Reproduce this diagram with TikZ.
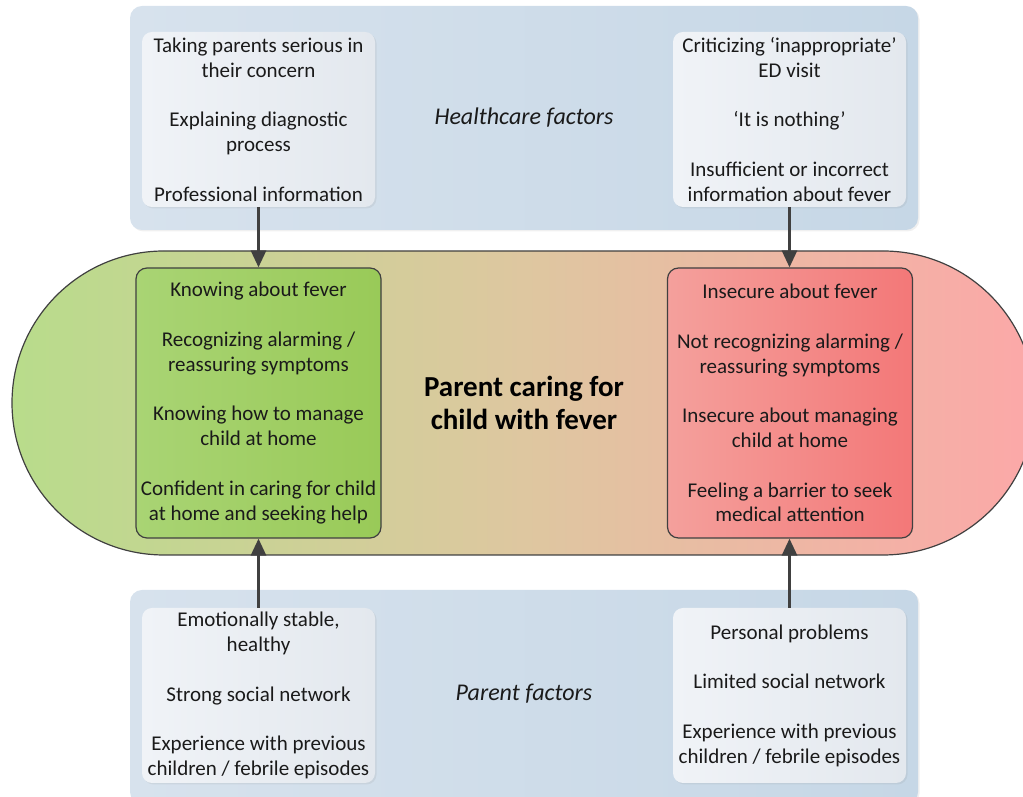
\documentclass[tikz,border=0pt]{standalone}
\usepackage{fontspec}
\setmainfont{Carlito}
\usetikzlibrary{arrows.meta,shadows}
\definecolor{panelL}{HTML}{D7E2ED}
\definecolor{panelR}{HTML}{C6D7E6}
\definecolor{whiteL}{HTML}{F0F3F7}
\definecolor{whiteR}{HTML}{E3E8EE}
\definecolor{stL}{HTML}{B8DC8B}
\definecolor{stM}{HTML}{DEC7A0}
\definecolor{stR}{HTML}{FCA8A8}
\definecolor{grL}{HTML}{A9D474}
\definecolor{grR}{HTML}{99CA58}
\definecolor{rdL}{HTML}{F4A09C}
\definecolor{rdR}{HTML}{F37878}
\definecolor{edge}{HTML}{404040}
\definecolor{txt}{HTML}{1A1A1A}
\pgfdeclarehorizontalshading{stadshade}{100bp}{color(0bp)=(stL); color(25bp)=(stL); color(50bp)=(stM); color(75bp)=(stR); color(100bp)=(stR)}
\tikzset{
  panel/.style={rectangle, rounded corners=12pt, minimum width=788pt, inner sep=0pt,
    left color=panelL, right color=panelR, drop shadow={opacity=0.12, shadow xshift=1.5pt, shadow yshift=-1.5pt}},
  factbox/.style={rectangle, rounded corners=10pt, minimum width=233pt, minimum height=175pt,
    left color=whiteL, right color=whiteR, align=center, inner sep=0pt, text=txt,
    font=\fontsize{21}{24.8}\selectfont,
    drop shadow={opacity=0.12, shadow xshift=1.5pt, shadow yshift=-1.5pt}},
  carebox/.style={rectangle, rounded corners=11pt, draw=edge, line width=1.2pt,
    minimum width=245pt, minimum height=270pt, align=center, inner sep=0pt, text=txt,
    font=\fontsize{21}{24.8}\selectfont},
  ptitle/.style={font=\fontsize{24}{28}\selectfont\itshape, text=txt},
  link/.style={draw=edge, line width=3pt, -{Triangle[length=17pt,width=15pt]}}
}
\begin{document}
\begin{tikzpicture}[x=1pt,y=1pt]
\useasboundingbox (0,0) rectangle (1023,797);
% panels
\node[panel, minimum height=224pt] (toppanel) at (524,679) {};
\node[panel, minimum height=214pt] (botpanel) at (524,100) {};
\node[ptitle] (hclabel) at (524,679) {Healthcare factors};
\node[ptitle] (pflabel) at (524,103) {Parent factors};
% stadium
\path[shading=stadshade, draw=edge, line width=1.2pt]
  (164,546) -- (883,546) arc (90:-90:152) -- (164,242) arc (270:90:152) -- cycle;
\node[font=\fontsize{29}{33}\selectfont\bfseries, align=center, text=black] (title) at (524,394)
  {Parent caring for\\child with fever};
% factor boxes
\node[factbox] (hpos) at (258.5,677.5) {Taking parents serious in\\their concern\\[24.8pt]Explaining diagnostic\\process\\[24.8pt]Professional information};
\node[factbox] (hneg) at (789.5,677.5) {Criticizing ‘inappropriate’\\ED visit\\[24.8pt]‘It is nothing’\\[24.8pt]Insufficient or incorrect\\information about fever};
\node[factbox] (ppos) at (258.5,101.5) {Emotionally stable,\\healthy\\[24.8pt]Strong social network\\[24.8pt]Experience with previous\\children / febrile episodes};
\node[factbox] (pneg) at (789.5,101.5) {Personal problems\\[24.8pt]Limited social network\\[24.8pt]Experience with previous\\children / febrile episodes};
% care boxes
\node[carebox, left color=grL, right color=grR] (good) at (258.5,394) {Knowing about fever\\[24.8pt]Recognizing alarming /\\reassuring symptoms\\[24.8pt]Knowing how to manage\\child at home\\[24.8pt]Confident in caring for child\\at home and seeking help};
\node[carebox, left color=rdL, right color=rdR] (bad) at (790,394) {Insecure about fever\\[24.8pt]Not recognizing alarming /\\reassuring symptoms\\[24.8pt]Insecure about managing\\child at home\\[24.8pt]Feeling a barrier to seek\\medical attention};
% arrows
\draw[link] (hpos.south) -- (good.north -| hpos.south);
\draw[link] (hneg.south) -- (bad.north -| hneg.south);
\draw[link] (ppos.north) -- (good.south -| ppos.north);
\draw[link] (pneg.north) -- (bad.south -| pneg.north);
\end{tikzpicture}
\end{document}
